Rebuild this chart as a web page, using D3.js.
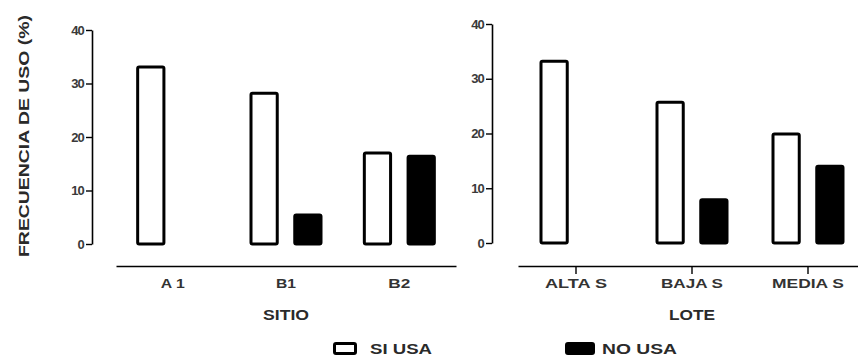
<!DOCTYPE html>
<html>
<head>
<meta charset="utf-8">
<script src="https://cdn.jsdelivr.net/npm/d3@7"></script>
<style>
  body { margin: 0; background: #fff; }
  svg { display: block; font-family: "Liberation Sans", Arial, sans-serif; }
</style>
</head>
<body>
<div id="chart"></div>
<script>
// two panels: frecuencia de uso by sitio and by lote
const SERIES = ['SI USA', 'NO USA'];
const SITIO_CATS = ['A 1', 'B1', 'B2'];
const SITIO_SI = [33.1, 28.2, 17.0];
const SITIO_NO = [0, 5.4, 16.4];
const LOTE_CATS = ['ALTA S', 'BAJA S', 'MEDIA S'];
const LOTE_SI = [33.2, 25.7, 19.9];
const LOTE_NO = [0, 7.9, 14.0];
const Y_TICKS = [0, 10, 20, 30, 40];

const W = 858, H = 360;
const FONT = '"Liberation Sans", Arial, sans-serif';
const svg = d3.select('#chart').append('svg').attr('width', W).attr('height', H);

// widths of the labels as printed in the source figure (glyphs are stretched)
const LABEL_W = { 'A 1': 24, 'B1': 20, 'B2': 22, 'ALTA S': 62, 'BAJA S': 62, 'MEDIA S': 72,
  'SITIO': 46, 'LOTE': 46, 'SI USA': 62, 'NO USA': 75 };

const PANELS = [
  { cats: SITIO_CATS, si: SITIO_SI, no: SITIO_NO, title: 'SITIO',
    axisX: 92, y0: 244, y1: 30, xr: [116, 456], lineY: 266, ticks: false },
  { cats: LOTE_CATS, si: LOTE_SI, no: LOTE_NO, title: 'LOTE',
    axisX: 492, y0: 243, y1: 24, xr: [518, 866], lineY: 266, ticks: true },
];

PANELS.forEach(p => {
  const g = svg.append('g');
  const y = d3.scaleLinear().domain([0, 40]).range([p.y0, p.y1]);
  const x = d3.scaleBand().domain(p.cats).range(p.xr).padding(0);
  const xs = d3.scaleBand().domain(SERIES).range([-35, 35]).paddingInner(0.4);

  // y axis
  const ya = g.append('g').attr('transform', `translate(${p.axisX},0)`)
    .call(d3.axisLeft(y).tickValues(Y_TICKS).tickSize(6).tickSizeOuter(0).tickPadding(2));
  ya.select('.domain').attr('stroke', '#000').attr('stroke-width', 1.6);
  ya.selectAll('.tick line').attr('stroke', '#000').attr('stroke-width', 1.4);
  ya.selectAll('.tick text').attr('font-size', 13).attr('font-weight', 'bold')
    .attr('fill', '#3a3a3a').attr('font-family', FONT).attr('letter-spacing', -0.8);

  // x axis
  const xa = g.append('g').attr('transform', `translate(0,${p.lineY})`)
    .call(d3.axisBottom(x).tickSize(p.ticks ? 8 : 0).tickSizeOuter(0).tickPadding(p.ticks ? 5 : 13));
  xa.select('.domain').attr('stroke', '#000').attr('stroke-width', 1.6);
  xa.selectAll('.tick line').attr('stroke', '#000').attr('stroke-width', 1.4);
  xa.selectAll('.tick text').attr('font-size', 13).attr('font-weight', 'bold')
    .attr('fill', '#333').attr('font-family', FONT)
    .attr('textLength', d => LABEL_W[d]).attr('lengthAdjust', 'spacingAndGlyphs');

  g.append('text')
    .attr('x', x(p.cats[1]) + x.bandwidth() / 2).attr('y', 320)
    .attr('text-anchor', 'middle').attr('font-size', 14).attr('font-weight', 'bold')
    .attr('fill', '#2a2a2a')
    .attr('textLength', LABEL_W[p.title]).attr('lengthAdjust', 'spacingAndGlyphs')
    .text(p.title);

  const rows = p.cats.map((c, i) => ({ cat: c, vals: [p.si[i], p.no[i]] }));
  rows.forEach(r => {
    r.vals.forEach((v, k) => {
      if (v <= 0) return;
      g.append('rect')
        .attr('x', x(r.cat) + x.bandwidth() / 2 + xs(SERIES[k]))
        .attr('y', y(v))
        .attr('width', xs.bandwidth())
        .attr('height', y(0) - y(v))
        .attr('rx', 1.5)
        .attr('fill', k === 0 ? '#fff' : '#000')
        .attr('stroke', '#000').attr('stroke-width', 3);
    });
  });
});

// y title
svg.append('text')
  .attr('transform', 'translate(29,136) rotate(-90)')
  .attr('text-anchor', 'middle').attr('font-size', 14).attr('font-weight', 'bold')
  .attr('fill', '#2a2a2a')
  .attr('textLength', 242).attr('lengthAdjust', 'spacingAndGlyphs')
  .text('FRECUENCIA DE USO (%)');

// legend
const LEG_X = [334.5, 566.5];
SERIES.forEach((s, k) => {
  const lg = svg.append('g').attr('transform', `translate(${LEG_X[k]},348.5)`);
  lg.append('rect').attr('x', 0).attr('y', -5).attr('width', k === 0 ? 21 : 27).attr('height', 10)
    .attr('rx', 1.5)
    .attr('fill', k === 0 ? '#fff' : '#000').attr('stroke', '#000').attr('stroke-width', 3);
  lg.append('text').attr('x', k === 0 ? 35.5 : 35.5).attr('y', 5.5)
    .attr('font-size', 14).attr('font-weight', 'bold').attr('fill', '#2a2a2a')
    .attr('textLength', LABEL_W[s]).attr('lengthAdjust', 'spacingAndGlyphs')
    .text(s);
});
</script>
</body>
</html>
